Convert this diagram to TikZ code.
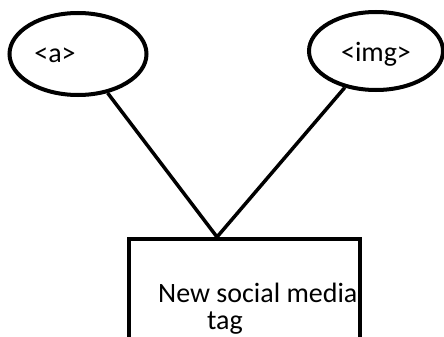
\documentclass[tikz,border=0pt]{standalone}
\usepackage{fontspec}
\setmainfont{Carlito}
\usetikzlibrary{shapes.geometric}
\begin{document}
\begin{tikzpicture}[x=1pt,y=-1pt,
  bubble/.style={draw,line width=4pt,ellipse,inner sep=0pt},
  label/.style={font=\fontsize{28}{27}\selectfont,inner sep=0pt},
  link/.style={line width=3.5pt}]
  \useasboundingbox (0,0) rectangle (444,337);
  \begin{scope}
    \clip (0,0) rectangle (444,337);
    % tag box, running off the bottom edge
    \node[draw,line width=3.8pt,minimum width=231pt,minimum height=120pt,anchor=north west,inner sep=0pt] (box) at (127,237) {};
    \node[bubble,minimum width=134pt,minimum height=78pt] (img) at (376,51) {};
  \end{scope}
  \coordinate (apex) at (217,237);
  \node[bubble,minimum width=137pt,minimum height=82pt] (a) at (78,54) {};
  \node[label] (ta) at (55,55) {<a>};
  \node[label] (timg) at (376,54) {<img>};
  \node[label,align=left,anchor=north west] (tbox) at (158,283) {New social media\\\hspace*{49pt}tag};
  \draw[link] (a) -- (apex);
  \draw[link] (img) -- (apex);
\end{tikzpicture}
\end{document}
